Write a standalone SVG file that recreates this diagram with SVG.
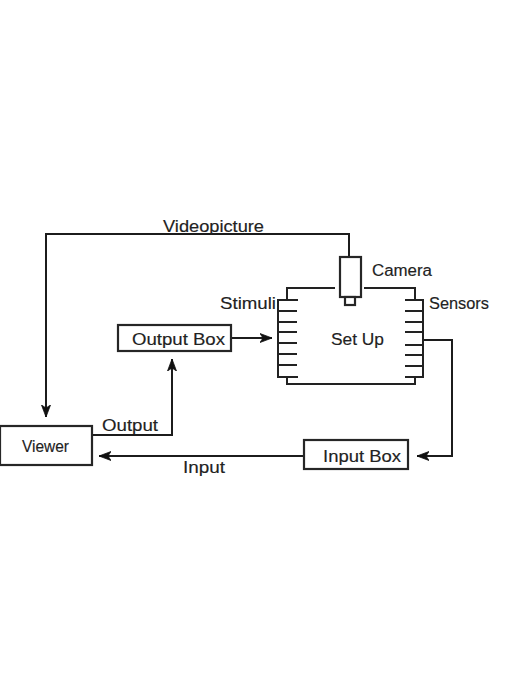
<svg xmlns="http://www.w3.org/2000/svg" width="508" height="696" viewBox="0 0 508 696">
<defs>
<marker id="arrow" markerUnits="userSpaceOnUse" markerWidth="14" markerHeight="12" refX="12" refY="6" orient="auto"><path d="M0 1.5 L3 6 L0 10.5 L12 6 Z" fill="#111" stroke="#111" stroke-width="0.8"/></marker>
</defs>
<style>
.box{fill:#fff;stroke:#262626;stroke-width:2.2}
.wire{fill:none;stroke:#1c1c1c;stroke-width:2}
.arr{marker-end:url(#arrow)}
.tick{fill:none;stroke:#222;stroke-width:2}
text{font-family:"Liberation Sans","DejaVu Sans",sans-serif;font-size:16px;fill:#222;stroke:#222;stroke-width:.15}
</style>
<rect width="508" height="696" fill="#fff"/>
<g id="connectors">
<path class="wire arr" d="M349 256 V234 H46 V417"/>
<path class="wire arr" d="M92 435 H172 V359"/>
<path class="wire arr" d="M231 338 H272"/>
<path class="wire arr" d="M423 340 H452 V456 H417"/>
<path class="wire arr" d="M303 456 H99"/>
</g>
<g id="viewer"><rect class="box" x="0" y="426" width="92" height="39"/><text x="22" y="452" textLength="47" lengthAdjust="spacingAndGlyphs">Viewer</text></g>
<g id="output-box"><rect class="box" x="118" y="325" width="113" height="26"/><text x="132" y="345" textLength="93" lengthAdjust="spacingAndGlyphs">Output Box</text></g>
<g id="input-box"><rect class="box" x="304" y="440" width="104" height="29"/><text x="323" y="462" textLength="78" lengthAdjust="spacingAndGlyphs">Input Box</text></g>
<g id="set-up">
<path class="tick" d="M335 288 H287 V300 M364 288 H415 V300 M287 377 V384 H415 V377"/>
<path class="tick" d="M298 300 H278 V377 H298 M278 311 H297 M278 322 H297 M278 332 H297 M278 343 H297 M278 354 H297 M278 365 H297"/>
<path class="tick" d="M405 300 H423 V377 H405 M405 311 H423 M405 322 H423 M405 332 H423 M405 345 H423 M405 355 H423 M405 366 H423"/>
<text x="331" y="345" textLength="53" lengthAdjust="spacingAndGlyphs">Set Up</text>
</g>
<g id="camera">
<rect class="box" x="340" y="257" width="21" height="40"/>
<rect class="box" x="345" y="297" width="10" height="8"/>
<text x="372" y="276" textLength="60" lengthAdjust="spacingAndGlyphs">Camera</text>
</g>
<g id="labels">
<text x="163" y="232" textLength="101" lengthAdjust="spacingAndGlyphs">Videopicture</text>
<text x="220" y="309" textLength="56" lengthAdjust="spacingAndGlyphs">Stimuli</text>
<text x="429" y="309" textLength="60" lengthAdjust="spacingAndGlyphs">Sensors</text>
<text x="102" y="431" textLength="56" lengthAdjust="spacingAndGlyphs">Output</text>
<text x="183" y="473" textLength="42" lengthAdjust="spacingAndGlyphs">Input</text>
</g>
</svg>
